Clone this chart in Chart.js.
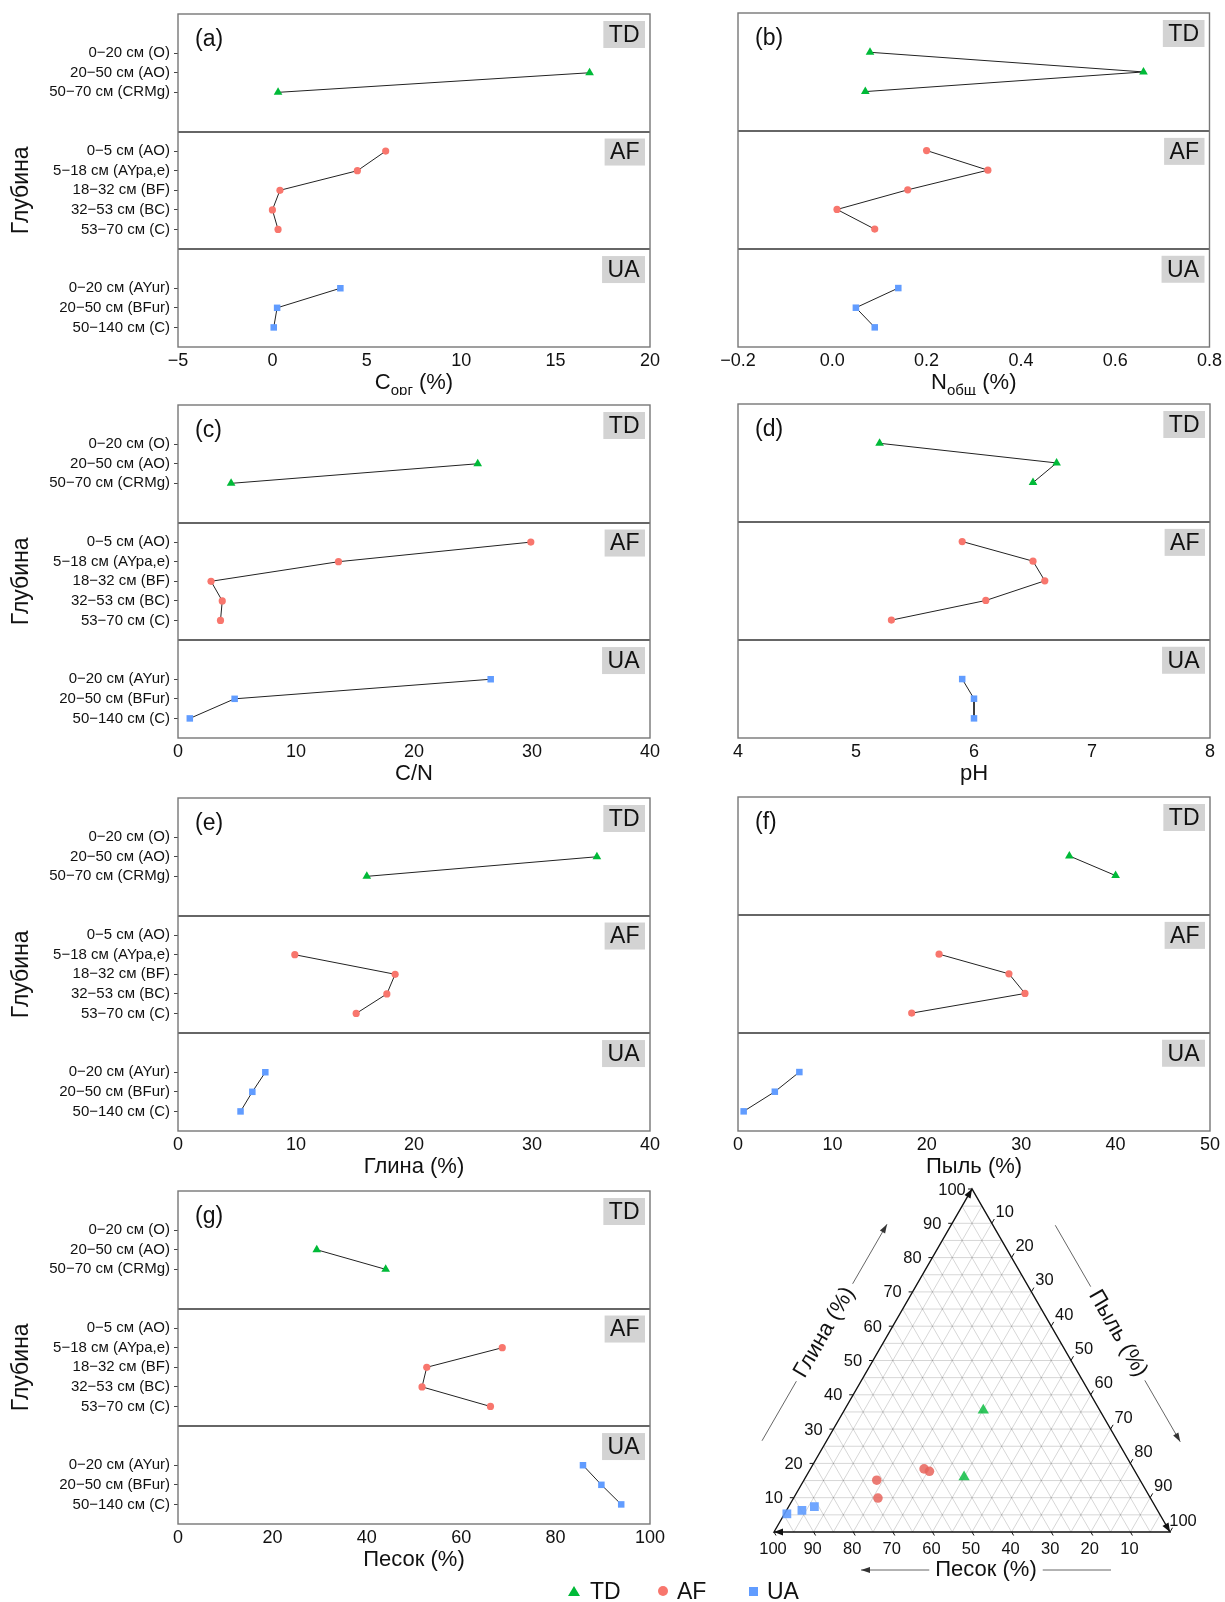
<!DOCTYPE html>
<html>
<head>
<meta charset="utf-8">
<script src="https://cdn.jsdelivr.net/npm/chart.js@4.4.1/dist/chart.umd.min.js"></script>
<style>
  html, body { margin: 0; padding: 0; background: #fff; }
  body { width: 1225px; height: 1602px; position: relative; overflow: hidden;
         font-family: "Liberation Sans", Arial, sans-serif; color: #111; }
  canvas { position: absolute; }
  .lg { position: absolute; font-size: 23px; line-height: 26px; color: #111; z-index: 5; }
  .mk { position: absolute; z-index: 5; }
</style>
</head>
<body>

<div class="mk" style="left:568px;top:1586px;width:0;height:0;border-left:6px solid transparent;border-right:6px solid transparent;border-bottom:10px solid #00BA38;"></div>
<div class="lg" style="left:590px;top:1578px;">TD</div>
<div class="mk" style="left:658px;top:1586px;width:10px;height:10px;border-radius:50%;background:#F8766D;"></div>
<div class="lg" style="left:677px;top:1578px;">AF</div>
<div class="mk" style="left:749px;top:1587px;width:9px;height:9px;background:#619CFF;"></div>
<div class="lg" style="left:767px;top:1578px;">UA</div>

<script>
// ---- depth categories (horizons) of the three soil profiles ----
const depthTD = ['0−20 см (O)', '20−50 см (AO)', '50−70 см (CRMg)'];
const depthAF = ['0−5 см (AO)', '5−18 см (AYpa,e)', '18−32 см (BF)', '32−53 см (BC)', '53−70 см (C)'];
const depthUA = ['0−20 см (AYur)', '20−50 см (BFur)', '50−140 см (C)'];
const siteNames = ['TD', 'AF', 'UA'];

// ---- measured properties, one value per horizon (null = not measured) ----
const corgTD = [null, 16.8, 0.3];
const corgAF = [6.0, 4.5, 0.4, 0.0, 0.3];
const corgUA = [3.6, 0.25, 0.07];

const ntotTD = [0.08, 0.66, 0.07];
const ntotAF = [0.20, 0.33, 0.16, 0.01, 0.09];
const ntotUA = [0.14, 0.05, 0.09];

const cnTD = [null, 25.4, 4.5];
const cnAF = [29.9, 13.6, 2.8, 3.75, 3.6];
const cnUA = [26.5, 4.8, 1.0];

const phTD = [5.2, 6.7, 6.5];
const phAF = [5.9, 6.5, 6.6, 6.1, 5.3];
const phUA = [5.9, 6.0, 6.0];

const clayTD = [null, 35.5, 16.0];
const clayAF = [null, 9.9, 18.4, 17.7, 15.1];
const clayUA = [7.4, 6.3, 5.3];

const siltTD = [null, 35.1, 40.0];
const siltAF = [null, 21.3, 28.7, 30.4, 18.4];
const siltUA = [6.5, 3.9, 0.6];

const sandTD = [null, 29.4, 44.0];
const sandAF = [null, 68.7, 52.7, 51.7, 66.2];
const sandUA = [85.8, 89.7, 93.9];

// ---- axis ticks ----
const ticksCorg = [-5, 0, 5, 10, 15, 20];
const ticksN    = [-0.2, 0, 0.2, 0.4, 0.6, 0.8];
const ticksCN   = [0, 10, 20, 30, 40];
const ticksPH   = [4, 5, 6, 7, 8];
const ticksClay = [0, 10, 20, 30, 40];
const ticksSilt = [0, 10, 20, 30, 40, 50];
const ticksSand = [0, 20, 40, 60, 80, 100];
const ternaryTicks = [10, 20, 30, 40, 50, 60, 70, 80, 90, 100];
const ternaryGrid  = [5, 10, 15, 20, 25, 30, 35, 40, 45, 50, 55, 60, 65, 70, 75, 80, 85, 90, 95];

// ---- styling ----
const FONT = '"Liberation Sans", Arial, sans-serif';
Chart.defaults.font.family = FONT;
Chart.defaults.color = '#111';
const siteColor = { TD: '#00BA38', AF: '#F8766D', UA: '#619CFF' };
const siteAlpha = { TD: 'rgba(0,186,56,0.8)', AF: 'rgba(232,100,92,0.85)', UA: 'rgba(97,156,255,0.9)' };
const siteStyle = { TD: 'triangle', AF: 'circle', UA: 'rect' };
const siteRadius = { TD: 5, AF: 3.6, UA: 4.6 };
const ternRadius = { TD: 6.5, AF: 4.8, UA: 6.2 };

// vertical layout of the facets inside every panel (in row slots, top = 0)
const slotsTD = [2, 3, 4];
const slotsAF = [7, 8, 9, 10, 11];
const slotsUA = [14, 15, 16];
const facets = [
  { name: 'TD', from: 0, to: 6 },
  { name: 'AF', from: 6, to: 12 },
  { name: 'UA', from: 12, to: 17 }
];
const slotMax = 17;
const allSlots = [...slotsTD, ...slotsAF, ...slotsUA];
const allDepths = [...depthTD, ...depthAF, ...depthUA];

function fmt(v, digits) {
  return v.toFixed(digits).replace('-', '−');
}

const panels = [
  { key: 'a', col: 0, row: 0, vals: [corgTD, corgAF, corgUA], ticks: ticksCorg, digits: 0, title: [['C', 0], ['орг', 1], [' (%)', 0]] },
  { key: 'b', col: 1, row: 0, vals: [ntotTD, ntotAF, ntotUA], ticks: ticksN, digits: 1, title: [['N', 0], ['общ', 1], [' (%)', 0]] },
  { key: 'c', col: 0, row: 1, vals: [cnTD, cnAF, cnUA], ticks: ticksCN, digits: 0, title: [['C/N', 0]] },
  { key: 'd', col: 1, row: 1, vals: [phTD, phAF, phUA], ticks: ticksPH, digits: 0, title: [['pH', 0]] },
  { key: 'e', col: 0, row: 2, vals: [clayTD, clayAF, clayUA], ticks: ticksClay, digits: 0, title: [['Глина (%)', 0]] },
  { key: 'f', col: 1, row: 2, vals: [siltTD, siltAF, siltUA], ticks: ticksSilt, digits: 0, title: [['Пыль (%)', 0]] },
  { key: 'g', col: 0, row: 3, vals: [sandTD, sandAF, sandUA], ticks: ticksSand, digits: 0, title: [['Песок (%)', 0]] }
];

const colGeom = [
  { left: 0, width: 670, yAxis: 178, padRight: 20 },
  { left: 680, width: 545, yAxis: 58, padRight: 15 }
];
const rowTops = [1, 392, 785, 1178];
const PAD_TOP = 12, AREA_H = 334, X_AXIS_H = 48;

function newCanvas(left, top, w, h) {
  const c = document.createElement('canvas');
  c.width = w; c.height = h;
  c.style.left = left + 'px'; c.style.top = top + 'px';
  c.style.width = w + 'px'; c.style.height = h + 'px';
  document.body.appendChild(c);
  return c;
}

function panelDecor(spec) {
  return {
    id: 'panelDecor',
    beforeDatasetsDraw(chart) {
      const { ctx, chartArea: a, scales: { y } } = chart;
      ctx.save();
      // facet strips
      ctx.font = '23px ' + FONT;
      ctx.textAlign = 'center';
      ctx.textBaseline = 'middle';
      for (const f of facets) {
        const top = y.getPixelForValue(f.from);
        const w = ctx.measureText(f.name).width + 11;
        ctx.fillStyle = '#d3d3d3';
        ctx.fillRect(a.right - 5 - w, top + 7, w, 27);
        ctx.fillStyle = '#111';
        ctx.fillText(f.name, a.right - 5 - w / 2, top + 21.5);
      }
      // facet separators
      ctx.strokeStyle = '#666';
      ctx.lineWidth = 2;
      for (const f of facets.slice(1)) {
        const yy = Math.round(y.getPixelForValue(f.from));
        ctx.beginPath(); ctx.moveTo(a.left, yy); ctx.lineTo(a.right, yy); ctx.stroke();
      }
      // frame
      ctx.strokeStyle = '#777';
      ctx.lineWidth = 1.4;
      ctx.strokeRect(a.left, a.top, a.right - a.left, a.bottom - a.top);
      // panel letter
      ctx.font = '23px ' + FONT;
      ctx.textAlign = 'left';
      ctx.fillStyle = '#111';
      ctx.fillText('(' + spec.key + ')', a.left + 17, a.top + 26);
      ctx.restore();
    },
    afterDraw(chart) {
      const { ctx, chartArea: a, scales: { y } } = chart;
      ctx.save();
      ctx.fillStyle = '#111';
      ctx.textBaseline = 'middle';
      // x axis title with optional subscript
      const mainF = '22px ' + FONT, subF = '15px ' + FONT;
      let total = 0;
      for (const [t, s] of spec.title) { ctx.font = s ? subF : mainF; total += ctx.measureText(t).width; }
      let x = (a.left + a.right) / 2 - total / 2;
      const ty = a.bottom + 36;
      ctx.textAlign = 'left';
      for (const [t, s] of spec.title) {
        ctx.font = s ? subF : mainF;
        ctx.fillText(t, x, s ? ty + 8 : ty);
        x += ctx.measureText(t).width;
      }
      // shared y title on the left column
      if (spec.col === 0) {
        const cy = (y.getPixelForValue(facets[1].from) + y.getPixelForValue(facets[1].to)) / 2;
        ctx.translate(22, cy);
        ctx.rotate(-Math.PI / 2);
        ctx.font = '23px ' + FONT;
        ctx.textAlign = 'center';
        ctx.fillText('Глубина', 0, 0);
      }
      ctx.restore();
    }
  };
}

function buildPanel(spec) {
  const g = colGeom[spec.col];
  const canvas = newCanvas(g.left, rowTops[spec.row], g.width, PAD_TOP + AREA_H + X_AXIS_H);
  const slotSets = [slotsTD, slotsAF, slotsUA];
  const datasets = siteNames.map((site, k) => ({
    label: site,
    data: spec.vals[k].map((v, i) => ({ x: v, y: slotSets[k][i] })).filter(p => p.x !== null),
    showLine: true,
    borderColor: '#222',
    borderWidth: 1,
    pointStyle: siteStyle[site],
    pointRadius: siteRadius[site],
    pointBackgroundColor: siteColor[site],
    pointBorderWidth: 0,
    clip: false
  }));
  const labelAt = new Map(allSlots.map((s, i) => [s, allDepths[i]]));
  const ticks = spec.ticks;
  new Chart(canvas, {
    type: 'scatter',
    data: { datasets },
    options: {
      responsive: false,
      animation: false,
      devicePixelRatio: 1,
      layout: { padding: { left: 0, right: g.padRight, top: PAD_TOP, bottom: 0 } },
      plugins: { legend: { display: false }, tooltip: { enabled: false } },
      scales: {
        x: {
          type: 'linear',
          min: ticks[0], max: ticks[ticks.length - 1],
          afterBuildTicks: (s) => { s.ticks = ticks.map(v => ({ value: v })); },
          afterFit: (s) => { s.height = X_AXIS_H; },
          grid: { display: false, drawTicks: false },
          border: { display: false },
          ticks: { font: { size: 18 }, color: '#111', padding: 3, maxRotation: 0,
                   autoSkip: false, callback: (v) => fmt(v, spec.digits) }
        },
        y: {
          type: 'linear',
          reverse: true,
          min: 0, max: slotMax,
          afterBuildTicks: (s) => { s.ticks = allSlots.map(v => ({ value: v })); },
          afterFit: (s) => { s.width = g.yAxis; },
          grid: { display: spec.col === 0, drawOnChartArea: false, drawTicks: true,
                  tickLength: 4, color: '#444', lineWidth: 1 },
          border: { display: false },
          ticks: { display: spec.col === 0, font: { size: 15 }, color: '#111', padding: 4,
                   autoSkip: false, callback: (v) => labelAt.get(v) || '' }
        }
      }
    },
    plugins: [panelDecor(spec)]
  });
}

panels.forEach(buildPanel);

// ---------------- ternary diagram (h) ----------------
const H = Math.sqrt(3) / 2;
function ternXY(clay, silt) { return { x: silt + clay / 2, y: clay * H }; }

const ternaryDecor = {
  id: 'ternaryDecor',
  beforeDatasetsDraw(chart) {
    const { ctx, scales: { x, y } } = chart;
    const P = (sand, silt, clay) => [x.getPixelForValue(silt + clay / 2), y.getPixelForValue(clay * H)];
    const seg = (p, q) => { ctx.beginPath(); ctx.moveTo(p[0], p[1]); ctx.lineTo(q[0], q[1]); ctx.stroke(); };
    ctx.save();
    // grid
    ctx.strokeStyle = 'rgba(0,0,0,0.16)';
    ctx.lineWidth = 1;
    for (const v of ternaryGrid) {
      seg(P(100 - v, 0, v), P(0, 100 - v, v));   // clay
      seg(P(100 - v, v, 0), P(0, v, 100 - v));   // silt
      seg(P(v, 100 - v, 0), P(v, 0, 100 - v));   // sand
    }
    // triangle
    const L = P(100, 0, 0), T = P(0, 0, 100), R = P(0, 100, 0);
    ctx.strokeStyle = '#111';
    ctx.lineWidth = 1.4;
    ctx.beginPath(); ctx.moveTo(L[0], L[1]); ctx.lineTo(T[0], T[1]); ctx.lineTo(R[0], R[1]); ctx.closePath(); ctx.stroke();

    // tick marks and labels
    ctx.lineWidth = 1;
    ctx.fillStyle = '#111';
    ctx.font = '16.5px ' + FONT;
    ctx.textAlign = 'center';
    ctx.textBaseline = 'middle';
    for (const v of ternaryTicks) {
      const pc = P(100 - v, 0, v);
      seg(pc, [pc[0] - 4, pc[1]]);
      ctx.fillText(String(v), pc[0] - 20, pc[1] + 1);
      const ps = P(0, v, 100 - v);
      seg(ps, [ps[0] + 2.5, ps[1] - 4.3]);
      ctx.fillText(String(v), ps[0] + 13, ps[1] - 11);
      const pb = P(v, 100 - v, 0);
      seg(pb, [pb[0] + 2, pb[1] + 3.5]);
      ctx.fillText(String(v), pb[0] - 1, pb[1] + 17);
    }

    // arrow heads at the vertices
    const head = (tip, ux, uy, len, hw) => {
      ctx.beginPath();
      ctx.moveTo(tip[0], tip[1]);
      ctx.lineTo(tip[0] - ux * len - uy * hw, tip[1] - uy * len + ux * hw);
      ctx.lineTo(tip[0] - ux * len + uy * hw, tip[1] - uy * len - ux * hw);
      ctx.closePath();
      ctx.fill();
    };
    head(T, 0.5, -H, 9, 3.5);
    head(R, 0.5, H, 9, 3.5);
    head(L, -1, 0, 9, 3.5);

    // axis titles with guide arrows
    ctx.font = '22px ' + FONT;
    const titled = (text, cx, cy, ang, ux, uy) => {
      ctx.save();
      ctx.translate(cx, cy);
      ctx.rotate(ang);
      ctx.fillStyle = '#111';
      ctx.fillText(text, 0, 0);
      ctx.restore();
      const gap = ctx.measureText(text).width / 2 + 6;
      const half = 125;
      ctx.strokeStyle = '#555';
      ctx.lineWidth = 0.9;
      seg([cx - ux * half, cy - uy * half], [cx - ux * gap, cy - uy * gap]);
      seg([cx + ux * gap, cy + uy * gap], [cx + ux * half, cy + uy * half]);
      ctx.fillStyle = '#333';
      head([cx + ux * half, cy + uy * half], ux, uy, 9, 3);
    };
    const lm = [(L[0] + T[0]) / 2, (L[1] + T[1]) / 2];
    const rm = [(R[0] + T[0]) / 2, (R[1] + T[1]) / 2];
    const bm = [(L[0] + R[0]) / 2, L[1]];
    titled('Глина (%)', lm[0] - H * 56, lm[1] - 0.5 * 56, -Math.PI / 3, 0.5, -H);
    titled('Пыль (%)', rm[0] + H * 54, rm[1] - 0.5 * 54, Math.PI / 3, 0.5, H);
    titled('Песок (%)', bm[0] + 14, bm[1] + 38, 0, -1, 0);

    // panel letter
    ctx.fillStyle = '#111';
    ctx.font = '23px ' + FONT;
    ctx.textAlign = 'left';
    ctx.fillText('(h)', 753, 47);
    ctx.restore();
  }
};

(function buildTernary() {
  const canvas = newCanvas(700, 1170, 525, 432);
  const sets = { TD: [clayTD, siltTD], AF: [clayAF, siltAF], UA: [clayUA, siltUA] };
  const datasets = siteNames.map(site => ({
    label: site,
    data: sets[site][0].map((c, i) => (c === null ? null : ternXY(c, sets[site][1][i]))).filter(p => p !== null),
    pointStyle: siteStyle[site],
    pointRadius: ternRadius[site],
    pointBackgroundColor: siteAlpha[site],
    pointBorderWidth: 0,
    showLine: false,
    clip: false
  }));
  new Chart(canvas, {
    type: 'scatter',
    data: { datasets },
    options: {
      responsive: false,
      animation: false,
      devicePixelRatio: 1,
      layout: { padding: { left: 74, right: 55, top: 19, bottom: 70 } },
      plugins: { legend: { display: false }, tooltip: { enabled: false } },
      scales: {
        x: { type: 'linear', min: 0, max: 100, display: false },
        y: { type: 'linear', min: 0, max: 100 * H, display: false }
      }
    },
    plugins: [ternaryDecor]
  });
})();
</script>
</body>
</html>
